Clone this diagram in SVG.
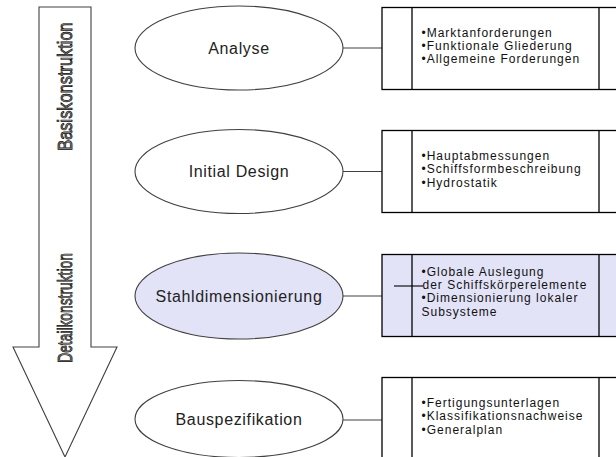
<svg xmlns="http://www.w3.org/2000/svg" width="616" height="457" viewBox="0 0 616 457">
<style>
.ell{fill:#fff;stroke:#404040;stroke-width:1.1}
.ell.hl{fill:#e3e3f8}
.box{fill:#fff;stroke:#000;stroke-width:1.3}
.box.hl{fill:#e3e3f8}
.div{stroke:#000;stroke-width:1.3}
.con{stroke:#404040;stroke-width:1.1;fill:none}
.lab{font-family:"Liberation Sans",Arial,sans-serif;font-size:16px;letter-spacing:0.65px;fill:#222;text-anchor:middle}
.itm{font-family:"Liberation Sans",Arial,sans-serif;font-size:12px;letter-spacing:1px;fill:#111}
.vert{font-family:"Liberation Sans",Arial,sans-serif;font-size:20px;fill:#999;stroke:#111;stroke-width:0.8;text-anchor:middle}
</style>
<rect width="616" height="457" fill="#fff"/>
<g id="arrow">
<polygon points="39,7 91,7 91,347 117,347 65,457 13,347 39,347" fill="#fff" stroke="#404040" stroke-width="1.1"/>
<text class="vert" transform="translate(72,86.5) rotate(-90) scale(0.82,1)">Basiskonstruktion</text>
<text class="vert" transform="translate(72,308) rotate(-90) scale(0.69,1)">Detailkonstruktion</text>
</g>
<g id="connectors">
<line class="con" x1="343" y1="48" x2="382" y2="48"/>
<line class="con" x1="343" y1="171.5" x2="382" y2="171.5"/>
<line class="con" x1="343" y1="296" x2="382" y2="296"/>
<line class="con" x1="343" y1="420" x2="382" y2="420"/>
</g>
<g id="analyse">
<ellipse class="ell" cx="239" cy="48" rx="104" ry="42"/>
<text class="lab" x="239" y="53.5">Analyse</text>
</g>
<g id="analyse-box">
<rect class="box" x="382" y="7.5" width="250" height="82"/>
<line class="div" x1="412" y1="7.5" x2="412" y2="89.5"/>
<line class="div" x1="599" y1="7.5" x2="599" y2="89.5"/>
<text class="itm" x="421.5" y="36.5">•Marktanforderungen</text>
<text class="itm" x="421.5" y="49.8">•Funktionale Gliederung</text>
<text class="itm" x="421.5" y="63.1">•Allgemeine Forderungen</text>
</g>
<g id="initial">
<ellipse class="ell" cx="239" cy="171.5" rx="104" ry="42"/>
<text class="lab" x="239" y="177">Initial Design</text>
</g>
<g id="initial-box">
<rect class="box" x="382" y="130.5" width="250" height="82"/>
<line class="div" x1="412" y1="130.5" x2="412" y2="212.5"/>
<line class="div" x1="599" y1="130.5" x2="599" y2="212.5"/>
<text class="itm" x="421.5" y="160">•Hauptabmessungen</text>
<text class="itm" x="421.5" y="173.3">•Schiffsformbeschreibung</text>
<text class="itm" x="421.5" y="186.6">•Hydrostatik</text>
</g>
<g id="stahl">
<ellipse class="ell hl" cx="239" cy="296" rx="104" ry="43"/>
<text class="lab" x="239" y="301.5">Stahldimensionierung</text>
</g>
<g id="stahl-box">
<rect class="box hl" x="382" y="254.5" width="250" height="82"/>
<line class="div" x1="412" y1="254.5" x2="412" y2="336.5"/>
<line class="div" x1="599" y1="254.5" x2="599" y2="336.5"/>
<line x1="394" y1="286" x2="423" y2="286" stroke="#000" stroke-width="1.1"/>
<text class="itm" x="421.5" y="276">•Globale Auslegung</text>
<text class="itm" x="422.5" y="289.2">der Schiffskörperelemente</text>
<text class="itm" x="421.5" y="302.4">•Dimensionierung lokaler</text>
<text class="itm" x="421.5" y="315.6">Subsysteme</text>
</g>
<g id="bau">
<ellipse class="ell" cx="239" cy="419" rx="104" ry="38.5"/>
<text class="lab" x="239" y="425">Bauspezifikation</text>
</g>
<g id="bau-box">
<rect class="box" x="382" y="377.5" width="250" height="90"/>
<line class="div" x1="412" y1="377.5" x2="412" y2="460"/>
<line class="div" x1="599" y1="377.5" x2="599" y2="460"/>
<text class="itm" x="421.5" y="407">•Fertigungsunterlagen</text>
<text class="itm" x="421.5" y="420.3">•Klassifikationsnachweise</text>
<text class="itm" x="421.5" y="433.6">•Generalplan</text>
</g>
</svg>
